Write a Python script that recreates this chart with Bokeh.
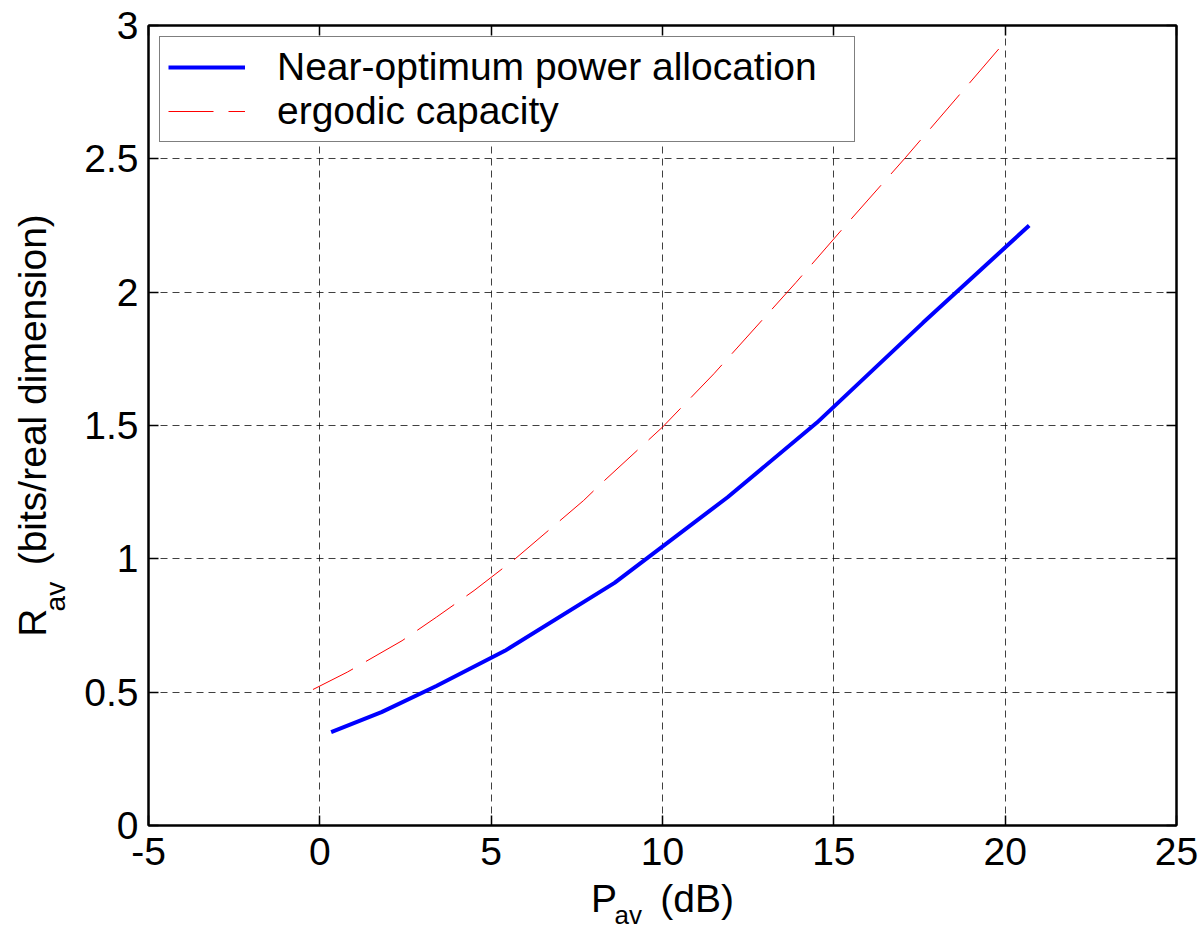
from bokeh.plotting import figure
from bokeh.models import (Range1d, LinearAxis, FixedTicker, CustomJSTickFormatter,
                          Legend, LegendItem, Label)
from bokeh.embed import file_html
from bokeh.resources import INLINE

# ---- data ----
near_x = [0.33, 1.8, 3.4, 5.4, 8.6, 11.9, 14.5, 17.6, 20.7]
near_y = [0.35, 0.425, 0.523, 0.655, 0.91, 1.231, 1.51, 1.885, 2.25]
erg_x = [-0.2, 0.8, 2.4, 3.4, 4.5, 5.7, 7.7, 8.2, 10.0, 11.5, 13.9, 15.4, 17.1, 19.9]
erg_y = [0.51, 0.575, 0.693, 0.781, 0.881, 1.0, 1.219, 1.281, 1.494, 1.694, 2.037, 2.259, 2.506, 2.925]
x_ticks = [-5, 0, 5, 10, 15, 20, 25]
y_ticks = [0, 0.5, 1, 1.5, 2, 2.5, 3]
series_labels = ["Near-optimum power allocation", "ergodic capacity"]

NB = "\u00a0"
x_label_main = "P" + NB * 4 + "(dB)"
x_label_sub = "av"
y_label_main = "R" + NB * 4 + "(bits/real dimension)"
y_label_sub = "av" + NB * 44

FONT = "Liberation Sans"
FS = "39px"
SUB = "28px"
XSUB = "26px"

p = figure(width=1203, height=930, x_range=Range1d(-5, 25), y_range=Range1d(0, 3),
           output_backend="svg", toolbar_location=None,
           min_border_left=148, min_border_right=27, min_border_top=25, min_border_bottom=105)
p.background_fill_color = "white"
p.border_fill_color = "white"
p.outline_line_color = "black"
p.outline_line_width = 2

fmt = CustomJSTickFormatter(code="return tick.toString();")
blank = CustomJSTickFormatter(code="return '';")
p.xaxis.ticker = FixedTicker(ticks=x_ticks)
p.yaxis.ticker = FixedTicker(ticks=y_ticks)
p.xaxis.formatter = fmt
p.yaxis.formatter = fmt

top_axis = LinearAxis(ticker=FixedTicker(ticks=x_ticks), formatter=blank, major_label_standoff=0)
right_axis = LinearAxis(ticker=FixedTicker(ticks=y_ticks), formatter=blank, major_label_standoff=0)
p.add_layout(top_axis, "above")
p.add_layout(right_axis, "right")

for ax in p.axis:
    ax.major_tick_in = 10
    ax.major_tick_out = 0
    ax.minor_tick_in = 0
    ax.minor_tick_out = 0
    ax.axis_line_width = 2
    ax.axis_line_color = "black"
    ax.major_tick_line_color = "black"
    ax.major_tick_line_width = 1.5

bottom = p.below[0]
left = p.left[0]
for ax, standoff in ((bottom, 12), (left, 10)):
    ax.major_label_text_font = FONT
    ax.major_label_text_font_size = FS
    ax.major_label_text_color = "black"
    ax.major_label_standoff = standoff

# x label: main text on the bottom axis
bottom.axis_label = x_label_main
bottom.axis_label_standoff = 9
bottom.axis_label_text_font = FONT
bottom.axis_label_text_font_size = FS
bottom.axis_label_text_font_style = "normal"
bottom.axis_label_text_color = "black"

# x subscript: a label kept in the right side panel (so it is not clipped)
x_sub = Label(x=10, y=0, x_offset=-48, y_offset=-89, text=x_label_sub,
              text_font=FONT, text_font_size=XSUB, text_color="black",
              text_align="left", text_baseline="alphabetic")
p.add_layout(x_sub, "right")

# y: subscript on the main left axis, main text on an extra outer axis
left.axis_label = y_label_sub
left.axis_label_standoff = 10
left.axis_label_text_font = FONT
left.axis_label_text_font_size = SUB
left.axis_label_text_font_style = "normal"
left.axis_label_text_color = "black"

y_main_axis = LinearAxis(ticker=FixedTicker(ticks=[]), axis_line_color=None,
                         major_tick_line_color=None, minor_tick_line_color=None,
                         major_tick_in=0, major_tick_out=0, minor_tick_in=0, minor_tick_out=0,
                         major_label_standoff=0,
                         axis_label=y_label_main, axis_label_standoff=-16,
                         axis_label_text_font=FONT, axis_label_text_font_size=FS,
                         axis_label_text_font_style="normal", axis_label_text_color="black")
p.add_layout(y_main_axis, "left")

p.xgrid.ticker = FixedTicker(ticks=x_ticks)
p.ygrid.ticker = FixedTicker(ticks=y_ticks)
p.grid.grid_line_color = "black"
p.grid.grid_line_alpha = 0.75
p.grid.grid_line_width = 1
p.grid.grid_line_dash = "7 5"

r1 = p.line(near_x, near_y, line_color="#0000FF", line_width=4)
r2 = p.line(erg_x, erg_y, line_color="#FF0000", line_width=1, line_dash="45 15")

legend = Legend(items=[LegendItem(label=series_labels[0], renderers=[r1]),
                       LegendItem(label=series_labels[1], renderers=[r2])],
                location="top_left", margin=11, padding=8, spacing=0,
                glyph_width=77, glyph_height=40, label_standoff=32, label_width=569,
                label_text_font=FONT, label_text_font_size=FS, label_text_color="black",
                border_line_color="black", border_line_width=1.5,
                background_fill_color="white", background_fill_alpha=1.0)
p.add_layout(legend)

open("out.html", "w").write(file_html(p, INLINE))
